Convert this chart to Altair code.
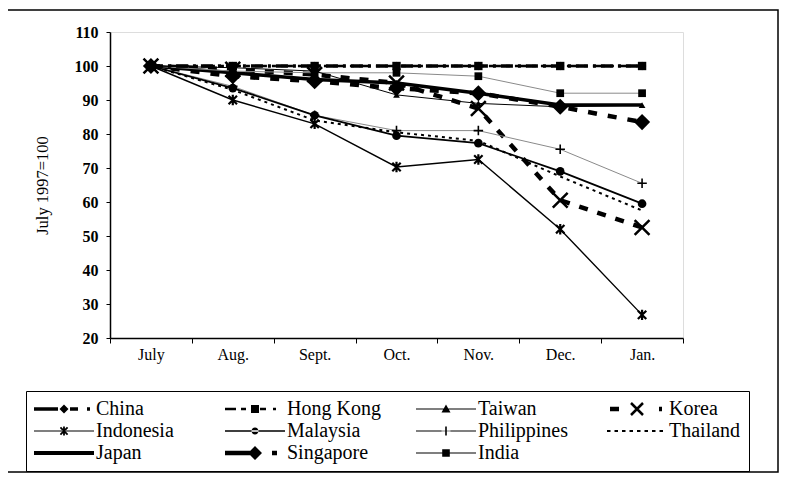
import altair as alt
import pandas as pd
import math

# ---------------- data ----------------
months = ["July", "Aug.", "Sept.", "Oct.", "Nov.", "Dec.", "Jan."]
countries = ["China", "Hong Kong", "Taiwan", "Korea", "Indonesia", "Malaysia",
             "Philippines", "Thailand", "Japan", "Singapore", "India"]

china = [100, 100, 100, 100, 100, 100, 100]
hong_kong = [100, 100, 100, 100, 100, 100, 100]
taiwan = [100, 99.5, 98.5, 91.5, 89, 88, 88.5]
korea = [100, 99, 97.5, 95, 87.5, 60.5, 52.5]
indonesia = [100, 90, 83, 70.3, 72.5, 52, 26.8]
malaysia = [100, 93.5, 85.5, 79.5, 77.3, 69, 59.5]
philippines = [100, 94, 85.5, 81, 81, 75.5, 65.5]
thailand = [100, 93, 84, 80.5, 78, 67.5, 57.5]
japan = [100, 98, 96, 95, 92, 88.5, 88.5]
singapore = [100, 97, 95.5, 93.5, 92, 88, 83.5]
india = [100, 98.5, 98, 98, 97, 92, 92]

series = {
    "China": china, "Hong Kong": hong_kong, "Taiwan": taiwan, "Korea": korea,
    "Indonesia": indonesia, "Malaysia": malaysia, "Philippines": philippines,
    "Thailand": thailand, "Japan": japan, "Singapore": singapore, "India": india,
}

rows = []
for c in countries:
    for m, v in zip(months, series[c]):
        rows.append({"month": m, "country": c, "value": v})
df = pd.DataFrame(rows)

# ---------------- styles ----------------
XPATH = "M-1,-1L1,1M-1,1L1,-1"
PLUS = "M-1,0H1M0,-1V1"
AST = "M-0.8,-0.8L0.8,0.8M-0.8,0.8L0.8,-0.8M0,-1V1"

line_style = {
    "China":       dict(color="black", width=3.5, dash=[12, 5, 3, 5]),
    "Hong Kong":   dict(color="black", width=2.5, dash=[12, 5, 4, 5]),
    "Taiwan":      dict(color="black", width=1.0, dash=None),
    "Korea":       dict(color="black", width=4.5, dash=[9, 10]),
    "Indonesia":   dict(color="black", width=1.4, dash=None),
    "Malaysia":    dict(color="black", width=1.8, dash=None),
    "Philippines": dict(color="#8a8a8a", width=1.0, dash=None),
    "Thailand":    dict(color="black", width=2.0, dash=[3, 4]),
    "Japan":       dict(color="black", width=3.5, dash=None),
    "Singapore":   dict(color="black", width=4.5, dash=[9, 11]),
    "India":       dict(color="#8a8a8a", width=1.0, dash=None),
}
marker_style = {
    "China":       dict(shape="diamond", size=70, filled=True, sw=1),
    "Hong Kong":   dict(shape="square", size=70, filled=True, sw=1),
    "Taiwan":      dict(shape="triangle-up", size=45, filled=True, sw=1),
    "Korea":       dict(shape=XPATH, size=220, filled=False, sw=2.5),
    "Indonesia":   dict(shape=AST, size=110, filled=False, sw=2.2),
    "Malaysia":    dict(shape="circle", size=75, filled=True, sw=1),
    "Philippines": dict(shape=PLUS, size=90, filled=False, sw=1.6),
    "Singapore":   dict(shape="diamond", size=260, filled=True, sw=1),
    "India":       dict(shape="square", size=60, filled=True, sw=1),
}
draw_order = ["Japan", "Singapore", "Korea", "India", "Philippines", "Taiwan",
              "Thailand", "Malaysia", "Indonesia", "China", "Hong Kong"]

# ---------------- legend symbol paths (unit = 10px) ----------------
def f(v):
    return f"{v:.3f}".rstrip("0").rstrip(".")

def rect(x1, x2, h):
    return f"M{f(x1)},{f(-h)}H{f(x2)}V{f(h)}H{f(x1)}Z"

def seg(x1, y1, x2, y2, w):
    dx, dy = x2 - x1, y2 - y1
    L = math.hypot(dx, dy)
    nx, ny = -dy / L * w / 2, dx / L * w / 2
    pts = [(x1 + nx, y1 + ny), (x2 + nx, y2 + ny), (x2 - nx, y2 - ny), (x1 - nx, y1 - ny)]
    return "M" + "L".join(f"{f(a)},{f(b)}" for a, b in pts) + "Z"

def diamond(cx, r):
    return f"M{f(cx)},{f(-r)}L{f(cx + r)},0L{f(cx)},{f(r)}L{f(cx - r)},0Z"

def square(cx, r):
    return f"M{f(cx - r)},{f(-r)}H{f(cx + r)}V{f(r)}H{f(cx - r)}Z"

def circle(cx, r):
    return f"M{f(cx - r)},0A{f(r)},{f(r)} 0 1,0 {f(cx + r)},0A{f(r)},{f(r)} 0 1,0 {f(cx - r)},0Z"

def tri(cx, r):
    return f"M{f(cx)},{f(-r)}L{f(cx + r)},{f(r * 0.8)}L{f(cx - r)},{f(r * 0.8)}Z"

def xmark(cx, r, w):
    return seg(cx - r, -r, cx + r, r, w) + seg(cx - r, r, cx + r, -r, w)

def plus(cx, r, w):
    return seg(cx - r, 0, cx + r, 0, w) + seg(cx, -r, cx, r, w)

def asterisk(cx, r, w):
    return xmark(cx, r * 0.8, w) + seg(cx, -r, cx, r, w)

thin = 0.05
legend_paths = [
    rect(-3, -0.6, 0.18) + diamond(0, 0.45) + rect(0.6, 1.4, 0.18) + rect(2.3, 2.6, 0.18),   # China
    rect(-3, -1.9, 0.12) + rect(-1.4, -0.9, 0.12) + square(0, 0.4) + rect(0.5, 1.1, 0.12) + rect(1.8, 2.1, 0.12),  # Hong Kong
    rect(-3, 3, thin) + tri(0, 0.45),                                                          # Taiwan
    rect(-2.7, -1.8, 0.22) + xmark(0, 0.6, 0.25) + rect(2.2, 2.5, 0.22),                       # Korea
    rect(-3, 3, 0.06) + asterisk(0, 0.45, 0.18),                                               # Indonesia
    rect(-3, 3, 0.08) + circle(0, 0.35),                                                       # Malaysia
    rect(-3, 3, thin) + plus(0, 0.45, 0.16),                                                   # Philippines
    "".join(rect(-3 + i * 0.75, -3 + i * 0.75 + 0.35, 0.1) for i in range(8)),                 # Thailand
    rect(-3, 3, 0.2),                                                                          # Japan
    rect(-3, -0.5, 0.22) + diamond(0, 0.7) + rect(1.7, 2.2, 0.22),                             # Singapore
    rect(-3, 3, thin) + square(0, 0.38),                                                       # India
]

# ---------------- encodings ----------------
FONT = "Liberation Serif"
X = alt.X("month:N", sort=months, bandPosition=0.5,
          scale=alt.Scale(type="band", domain=months, paddingInner=0, paddingOuter=0),
          axis=alt.Axis(title=None, tickBand="extent", tickSize=5, labelPadding=3,
                        labelFont=FONT, labelFontSize=16, labelColor="black",
                        domainColor="black", domainWidth=1.5, tickColor="black",
                        labelAngle=0, grid=False))
Y = alt.Y("value:Q", scale=alt.Scale(domain=[20, 110], nice=False, zero=False),
          axis=alt.Axis(title="July 1997=100", values=list(range(20, 111, 10)),
                        tickSize=4, labelPadding=8, labelFont=FONT, labelFontSize=16,
                        labelFontWeight="bold",
                        labelColor="black", domainColor="black", domainWidth=1.5,
                        tickColor="black", grid=False,
                        titleFont=FONT, titleFontSize=16.5, titleFontWeight="normal",
                        titleColor="black", titleX=-68, titleY=153,
                        titleAlign="center", titleBaseline="middle"))

layers = []

# outer frame (decoration)
frame = alt.Chart(pd.DataFrame({"k": [0]})).mark_rect(
    fillOpacity=0, stroke="black", strokeWidth=1.5
).encode(x=alt.value(-104), x2=alt.value(668), y=alt.value(-22), y2=alt.value(440))
layers.append(frame)

for c in draw_order:
    st = line_style[c]
    kw = dict(color=st["color"], strokeWidth=st["width"], strokeCap="butt")
    if st["dash"]:
        kw["strokeDash"] = st["dash"]
    layers.append(alt.Chart(df).transform_filter(alt.datum.country == c)
                  .mark_line(**kw).encode(x=X, y=Y))

for c in draw_order:
    if c not in marker_style:
        continue
    ms = marker_style[c]
    layers.append(alt.Chart(df).transform_filter(alt.datum.country == c)
                  .mark_point(shape=ms["shape"], size=ms["size"], filled=ms["filled"],
                              color="black", strokeWidth=ms["sw"], opacity=1)
                  .encode(x=X, y=Y))

legend_layer = alt.Chart(df).transform_filter("datum.value > 1000").mark_point(
    filled=True, size=400, color="black", opacity=1
).encode(
    x=X, y=Y,
    shape=alt.Shape("country:N",
                    scale=alt.Scale(domain=countries, range=legend_paths),
                    legend=alt.Legend(
                        orient="none", legendX=-84, legendY=359, columns=4,
                        direction="horizontal", title=None,
                        labelFont=FONT, labelFontSize=20, labelColor="black",
                        labelLimit=300, symbolSize=400, symbolOffset=20,
                        labelOffset=22, columnPadding=35, rowPadding=2,
                        padding=8, strokeColor="black", symbolStrokeWidth=0,
                        symbolFillColor="black", symbolStrokeColor="black",
                        symbolOpacity=1, gridAlign="all")),
)
layers.append(legend_layer)

chart = alt.layer(*layers).properties(
    width=573, height=306,
    padding={"left": 102, "top": 24, "right": 97, "bottom": 136},
    autosize=alt.AutoSizeParams(type="none"),
    background="white",
).configure_view(stroke="black", strokeWidth=1.2).configure(font=FONT)

chart.save("out.html", embed_options={"renderer": "svg", "actions": False})
